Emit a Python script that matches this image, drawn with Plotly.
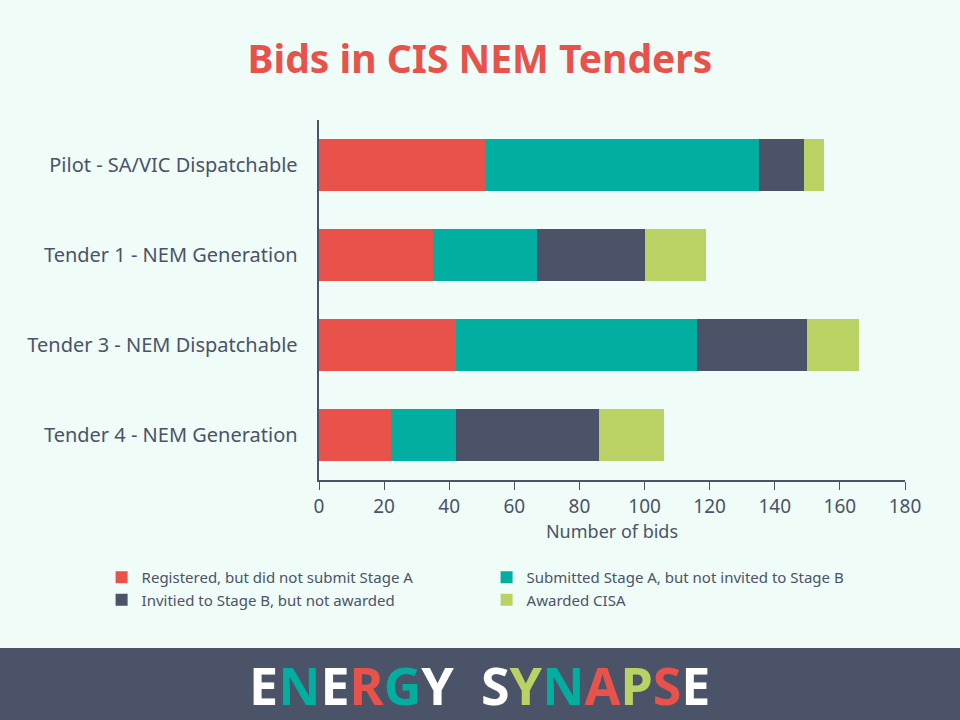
import plotly.graph_objects as go

tenders = ["Pilot - SA/VIC Dispatchable", "Tender 1 - NEM Generation",
           "Tender 3 - NEM Dispatchable", "Tender 4 - NEM Generation"]
registered = [51, 35, 42, 22]
submitted_a = [84, 32, 74, 20]
invited_b = [14, 33, 34, 44]
awarded = [6, 19, 16, 20]

series = [
    ("Registered, but did not submit Stage A", registered, "#e8524a"),
    ("Submitted Stage A, but not invited to Stage B", submitted_a, "#02aea0"),
    ("Invitied to Stage B, but not awarded", invited_b, "#4b5368"),
    ("Awarded CISA", awarded, "#bad263"),
]

bg = "#effcf8"
ink = "#4b5368"
fam = "Noto Sans"

fig = go.Figure()
for name, vals, col in series:
    fig.add_trace(go.Bar(y=tenders, x=vals, name=name, orientation="h",
                         marker=dict(color=col, line=dict(width=0))))

# footer band
fig.add_shape(type="rect", xref="paper", yref="paper", x0=-0.6, x1=1.2,
              y0=-0.4667, y1=-0.7, fillcolor=ink, line=dict(width=0), layer="below")

logo = ("E<span style='color:#02aea0'>N</span>E<span style='color:#e8524a'>R</span>"
        "<span style='color:#02aea0'>G</span>Y  S<span style='color:#bad263'>Y</span>"
        "<span style='color:#02aea0'>N</span><span style='color:#e8524a'>A</span>"
        "<span style='color:#bad263'>P</span><span style='color:#e8524a'>S</span>E")
fig.add_annotation(text="<b>" + logo + "</b>", xref="paper", yref="paper", x=0.2747, y=-0.5667,
                   showarrow=False, font=dict(family=fam, size=52, color="white"),
                   xanchor="center", yanchor="middle")

fig.update_layout(
    barmode="stack",
    bargap=0.42,
    width=960, height=720,
    paper_bgcolor=bg, plot_bgcolor=bg,
    margin=dict(l=319, r=55, t=120, b=240),
    font=dict(family=fam, color=ink, size=19),
    title=dict(text="<b>Bids in CIS NEM Tenders</b>", x=0.5, xanchor="center",
               y=0.918, yanchor="middle",
               font=dict(size=39, color="#e8524a", family=fam)),
    xaxis=dict(range=[0, 180], dtick=20, showgrid=False, zeroline=False,
               showline=True, linecolor=ink, linewidth=1.5, ticks="outside",
               tickcolor=ink, ticklen=8, tickfont=dict(size=19),
               title=dict(text="Number of bids", font=dict(size=18), standoff=8)),
    yaxis=dict(autorange="reversed", showgrid=False, showline=True, linecolor=ink,
               linewidth=1.5, ticks="", ticksuffix="   ", tickfont=dict(size=20)),
    legend=dict(orientation="h", x=-0.371, xanchor="left", y=-0.225, yanchor="top",
                entrywidth=340, entrywidthmode="pixels", traceorder="normal",
                font=dict(size=15), itemwidth=30, bgcolor="rgba(0,0,0,0)"),
)

fig.write_html("out.html", config={"displayModeBar": False},
               post_script="document.body.style.margin='0';")
